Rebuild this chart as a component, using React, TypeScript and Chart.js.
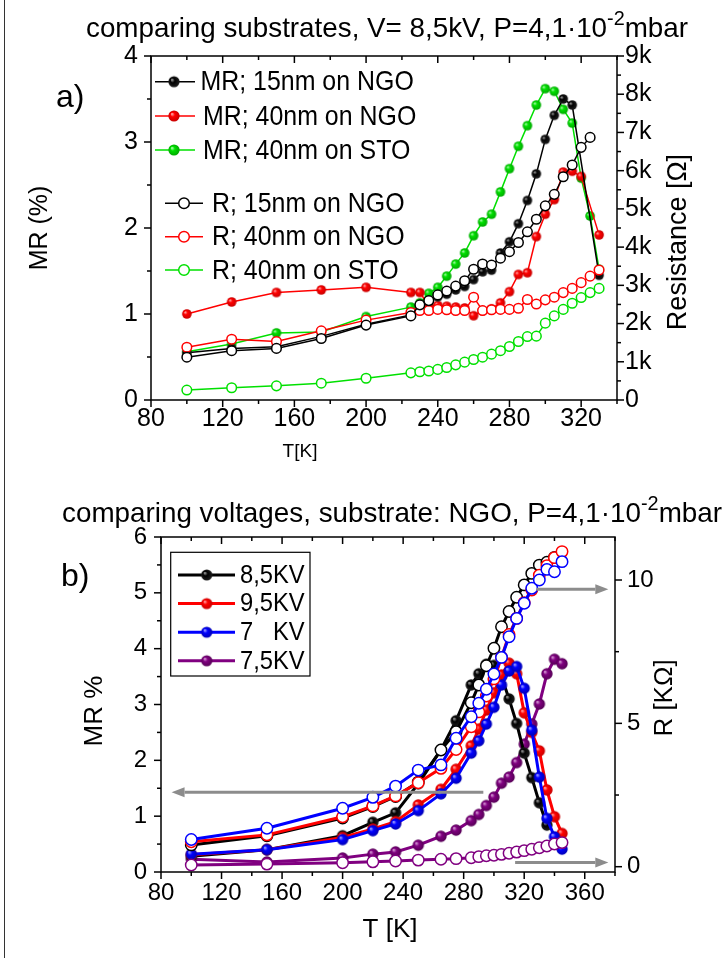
import React, { useEffect, useRef } from 'react';
import { Chart, registerables } from 'chart.js';
Chart.register(...registerables);

const FONT = '"Liberation Sans", Arial, Helvetica, sans-serif';

// ---------------- chart (a): comparing substrates ----------------
const TA_MR15 = [100, 125, 150, 175, 200, 225, 230, 235, 240, 245, 250, 255, 260, 265, 270, 275, 280, 285, 290, 295, 300, 305, 310, 315, 330];
const MR15 = [0.55, 0.60, 0.62, 0.74, 0.88, 0.99, 1.10, 1.15, 1.20, 1.23, 1.28, 1.32, 1.40, 1.49, 1.51, 1.71, 1.84, 2.05, 2.32, 2.63, 3.03, 3.31, 3.50, 3.43, 1.45];
const TA_MR40N = [100, 125, 150, 175, 200, 225, 230, 235, 240, 245, 250, 255, 260, 265, 270, 275, 280, 285, 290, 295, 300, 305, 310, 315, 320, 330];
const MR40N = [1.00, 1.14, 1.25, 1.28, 1.31, 1.25, 1.25, 1.10, 1.10, 1.09, 1.08, 1.07, 0.98, 1.04, 1.06, 1.13, 1.26, 1.46, 1.48, 1.90, 2.16, 2.33, 2.65, 2.66, 2.60, 1.92];
const TA_FULL = [100, 125, 150, 175, 200, 225, 230, 235, 240, 245, 250, 255, 260, 265, 270, 275, 280, 285, 290, 295, 300, 305, 310, 315, 320, 325, 330];
const MRSTO = [0.56, 0.65, 0.78, 0.79, 0.97, 1.08, 1.13, 1.24, 1.31, 1.44, 1.58, 1.71, 1.91, 2.07, 2.16, 2.42, 2.69, 2.95, 3.19, 3.43, 3.62, 3.59, 3.38, 3.22, 2.58, 2.14, 1.52];
const TA_R15 = [100, 125, 150, 175, 200, 225, 230, 235, 240, 245, 250, 255, 260, 265, 270, 275, 280, 285, 290, 295, 300, 305, 310, 315, 320, 325];
const R15 = [1.12, 1.29, 1.35, 1.61, 1.96, 2.20, 2.49, 2.60, 2.75, 2.85, 2.98, 3.12, 3.42, 3.56, 3.53, 3.71, 3.88, 4.12, 4.40, 4.73, 5.08, 5.38, 5.84, 6.15, 6.61, 6.87];
const R40N = [1.38, 1.59, 1.53, 1.81, 2.09, 2.29, 2.34, 2.34, 2.37, 2.36, 2.34, 2.34, 2.69, 2.34, 2.36, 2.37, 2.37, 2.40, 2.63, 2.51, 2.62, 2.69, 2.81, 2.92, 3.07, 3.24, 3.40];
const RSTO = [0.26, 0.32, 0.37, 0.44, 0.57, 0.71, 0.74, 0.76, 0.80, 0.85, 0.92, 0.99, 1.06, 1.12, 1.20, 1.29, 1.40, 1.53, 1.66, 1.67, 2.01, 2.20, 2.37, 2.53, 2.68, 2.81, 2.92];
const LABELS_A = ['MR; 15nm on NGO', 'MR; 40nm on NGO', 'MR; 40nm on STO', 'R; 15nm on NGO', 'R; 40nm on NGO', 'R; 40nm on STO'];
const XTICKS_A = [80, 120, 160, 200, 240, 280, 320];
const XMINOR_A = [100, 140, 180, 220, 260, 300, 340];
const YTICKS_A = [0, 1, 2, 3, 4];
const YMINOR_A = [0.5, 1.5, 2.5, 3.5];
const RTICKS_A = [0, 1, 2, 3, 4, 5, 6, 7, 8, 9];
const RMINOR_A = [0.5, 1.5, 2.5, 3.5, 4.5, 5.5, 6.5, 7.5, 8.5];

// ---------------- chart (b): comparing voltages ----------------
const TB = [100, 150, 200, 220, 235, 250, 265, 275, 285, 290, 295, 300, 305, 310, 315, 320, 325, 330, 335, 340, 345];
const TB_85MR = [100, 150, 200, 220, 235, 250, 265, 275, 285, 290, 295, 300, 305, 310, 315, 320, 325, 330, 335];
const TB_85R = [100, 150, 200, 220, 235, 250, 265, 275, 285, 290, 295, 300, 305, 310, 315, 320, 325, 330, 335, 340];
const MR85 = [0.28, 0.40, 0.65, 0.89, 1.06, 1.58, 2.19, 2.71, 3.35, 3.55, 3.72, 3.70, 3.50, 3.10, 2.66, 2.13, 1.69, 1.24, 0.84];
const MR95 = [0.31, 0.40, 0.62, 0.77, 0.90, 1.20, 1.48, 1.84, 2.26, 2.56, 2.90, 3.21, 3.53, 3.74, 3.55, 2.85, 2.50, 2.17, 1.47, 0.99, 0.69];
const MR7 = [0.32, 0.40, 0.58, 0.74, 0.86, 1.10, 1.40, 1.68, 2.13, 2.35, 2.65, 2.95, 3.35, 3.60, 3.68, 3.29, 2.54, 1.70, 0.96, 0.63, 0.41];
const MR75 = [0.23, 0.18, 0.25, 0.32, 0.36, 0.48, 0.64, 0.75, 0.92, 1.03, 1.19, 1.34, 1.59, 1.70, 1.96, 2.29, 2.65, 3.01, 3.55, 3.81, 3.73];
const R85 = [0.76, 1.08, 1.70, 2.10, 2.45, 2.95, 4.07, 4.71, 5.72, 6.34, 7.01, 7.62, 8.37, 8.90, 9.40, 9.83, 10.23, 10.52, 10.62, 10.79];
const R95 = [0.87, 1.11, 1.74, 2.12, 2.47, 2.93, 3.43, 4.09, 4.88, 5.40, 5.95, 6.55, 7.30, 8.10, 8.66, 9.21, 9.65, 10.17, 10.50, 10.78, 10.99];
const R7 = [0.95, 1.34, 2.04, 2.42, 2.81, 3.37, 3.55, 4.48, 5.23, 5.70, 6.19, 6.72, 7.30, 8.02, 8.66, 9.19, 9.71, 10.00, 10.37, 10.29, 10.64];
const R75 = [0.06, 0.09, 0.14, 0.17, 0.20, 0.23, 0.26, 0.28, 0.31, 0.35, 0.38, 0.40, 0.43, 0.47, 0.51, 0.56, 0.61, 0.66, 0.72, 0.79, 0.84];
const LABELS_B = ['8,5KV', '9,5KV', '7   KV', '7,5KV'];
const XTICKS_B = [80, 120, 160, 200, 240, 280, 320, 360];
const XMINOR_B = [100, 140, 180, 220, 260, 300, 340, 380];
const YTICKS_B = [0, 1, 2, 3, 4, 5, 6];
const YMINOR_B = [0.5, 1.5, 2.5, 3.5, 4.5, 5.5];
const RTICKS_B = [0, 5, 10];
const RMINOR_B = [2.5, 7.5];
// annotation arrows (data coords): axis, value, from T, to T
const ARROWS_B: [string, number, number, number][] = [
  ['y', 1.43, 293, 87],
  ['y2', 9.68, 328, 375.6],
  ['y2', 0.15, 314, 375.6],
];

const COLORS: Record<string, [string, string, string]> = {
  black: ['#000000', '#1e1e1e', '#b8b8b8'],
  red: ['#ff0000', '#c80000', '#ffc4c4'],
  green: ['#00e000', '#00a800', '#c8ffc8'],
  blue: ['#0000ff', '#0000b4', '#c4c4ff'],
  purple: ['#800080', '#560056', '#e6b8e6'],
};

function makeBall(name: string, r: number) {
  const [mid, dark, light] = COLORS[name];
  const c = document.createElement('canvas');
  const s = Math.ceil(2 * r + 2);
  c.width = s;
  c.height = s;
  const ctx = c.getContext('2d')!;
  const cx = s / 2, cy = s / 2;
  const g = ctx.createRadialGradient(cx - r * 0.4, cy - r * 0.4, 0, cx, cy, r);
  g.addColorStop(0, light);
  g.addColorStop(0.4, mid);
  g.addColorStop(1, dark);
  ctx.fillStyle = g;
  ctx.beginPath();
  ctx.arc(cx, cy, r, 0, Math.PI * 2);
  ctx.fill();
  return c;
}

const pts = (xs: number[], ys: number[]) => ys.map((y, i) => ({ x: xs[i], y }));

function filledDs(xs: number[], ys: number[], name: string, r: number, lw: number, axis: string) {
  return {
    data: pts(xs, ys), yAxisID: axis, borderColor: COLORS[name][0], borderWidth: lw,
    pointStyle: makeBall(name, r), pointRadius: r, tension: 0, fill: false,
  };
}
function openDs(xs: number[], ys: number[], name: string, r: number, lw: number, axis: string) {
  return {
    data: pts(xs, ys), yAxisID: axis, borderColor: COLORS[name][0], borderWidth: lw,
    pointStyle: 'circle', pointRadius: r, pointBorderWidth: 1.5, pointBackgroundColor: '#ffffff',
    pointBorderColor: COLORS[name][0], tension: 0, fill: false,
  };
}

function line(ctx: CanvasRenderingContext2D, x1: number, y1: number, x2: number, y2: number) {
  ctx.beginPath();
  ctx.moveTo(x1, y1);
  ctx.lineTo(x2, y2);
  ctx.stroke();
}

function drawFrame(chart: any, xM: number[], xm: number[], yM: number[], ym: number[], rM: number[], rm: number[]) {
  const { ctx, chartArea: a, scales } = chart;
  ctx.save();
  ctx.strokeStyle = '#000';
  ctx.lineWidth = 1.5;
  ctx.strokeRect(a.left, a.top, a.right - a.left, a.bottom - a.top);
  const L = 7, l = 4;
  xM.forEach((v) => { const p = scales.x.getPixelForValue(v); line(ctx, p, a.bottom, p, a.bottom + L); line(ctx, p, a.top, p, a.top + L); });
  xm.forEach((v) => { const p = scales.x.getPixelForValue(v); line(ctx, p, a.bottom, p, a.bottom + l); line(ctx, p, a.top, p, a.top + l); });
  yM.forEach((v) => { const p = scales.y.getPixelForValue(v); line(ctx, a.left - L, p, a.left, p); });
  ym.forEach((v) => { const p = scales.y.getPixelForValue(v); line(ctx, a.left - l, p, a.left, p); });
  rM.forEach((v) => { const p = scales.y2.getPixelForValue(v); line(ctx, a.right, p, a.right + L, p); });
  rm.forEach((v) => { const p = scales.y2.getPixelForValue(v); line(ctx, a.right, p, a.right + l, p); });
  ctx.restore();
}

function drawTitle(ctx: CanvasRenderingContext2D, main: string, sup: string, tail: string, x0: number, x1: number, base: number, size: number) {
  ctx.save();
  ctx.fillStyle = '#000';
  ctx.textAlign = 'left';
  ctx.textBaseline = 'alphabetic';
  const big = `${size}px ${FONT}`;
  const small = `${Math.round(size * 0.7)}px ${FONT}`;
  ctx.font = big;
  const w1 = ctx.measureText(main).width;
  const w3 = ctx.measureText(tail).width;
  ctx.font = small;
  const w2 = ctx.measureText(sup).width;
  const sx = (x1 - x0) / (w1 + w2 + w3);
  ctx.translate(x0, base);
  ctx.scale(sx, 1);
  ctx.font = big;
  ctx.fillText(main, 0, 0);
  ctx.font = small;
  ctx.fillText(sup, w1, -size * 0.42);
  ctx.font = big;
  ctx.fillText(tail, w1 + w2, 0);
  ctx.restore();
}

function text(ctx: CanvasRenderingContext2D, s: string, x: number, y: number, size: number, align: CanvasTextAlign = 'left', rot = 0, sx = 1) {
  ctx.save();
  ctx.fillStyle = '#000';
  ctx.font = `${size}px ${FONT}`;
  ctx.textAlign = align;
  ctx.textBaseline = 'middle';
  ctx.translate(x, y);
  if (rot) ctx.rotate(rot);
  if (sx !== 1) ctx.scale(sx, 1);
  ctx.fillText(s, 0, 0);
  ctx.restore();
}

function openMarker(ctx: CanvasRenderingContext2D, x: number, y: number, r: number, color: string) {
  ctx.save();
  ctx.fillStyle = '#fff';
  ctx.strokeStyle = color;
  ctx.lineWidth = 1.5;
  ctx.beginPath();
  ctx.arc(x, y, r, 0, Math.PI * 2);
  ctx.fill();
  ctx.stroke();
  ctx.restore();
}

function arrow(ctx: CanvasRenderingContext2D, x1: number, y1: number, x2: number, y2: number) {
  ctx.save();
  ctx.strokeStyle = '#8c8c8c';
  ctx.fillStyle = '#8c8c8c';
  ctx.lineWidth = 3;
  const ang = Math.atan2(y2 - y1, x2 - x1);
  const hl = 13, hw = 5;
  const bx = x2 - hl * Math.cos(ang), by = y2 - hl * Math.sin(ang);
  line(ctx, x1, y1, bx, by);
  ctx.beginPath();
  ctx.moveTo(x2, y2);
  ctx.lineTo(bx - hw * Math.sin(ang), by + hw * Math.cos(ang));
  ctx.lineTo(bx + hw * Math.sin(ang), by - hw * Math.cos(ang));
  ctx.closePath();
  ctx.fill();
  ctx.restore();
}

function baseScales(xmin: number, xmax: number, xt: number[], ymin: number, ymax: number, yt: number[], rmin: number, rmax: number, rt: number[],
  fs: number, sizes: { xh: number; yl: number; yr: number; px: number; pl: number; pr: number }, rfmt: (v: number) => string) {
  const tickFont = { family: FONT, size: fs };
  const common = { grid: { display: false, drawTicks: false }, border: { display: false } };
  return {
    x: {
      type: 'linear', min: xmin, max: xmax, ...common,
      afterBuildTicks: (s: any) => { s.ticks = xt.map((v) => ({ value: v })); },
      ticks: { font: tickFont, color: '#000', padding: sizes.px, maxRotation: 0, autoSkip: false, callback: (v: any) => String(v) },
      afterFit: (s: any) => { s.height = sizes.xh; },
    },
    y: {
      type: 'linear', position: 'left', min: ymin, max: ymax, ...common,
      afterBuildTicks: (s: any) => { s.ticks = yt.map((v) => ({ value: v })); },
      ticks: { font: tickFont, color: '#000', padding: sizes.pl, autoSkip: false, callback: (v: any) => String(v) },
      afterFit: (s: any) => { s.width = sizes.yl; },
    },
    y2: {
      type: 'linear', position: 'right', min: rmin, max: rmax, ...common,
      afterBuildTicks: (s: any) => { s.ticks = rt.map((v) => ({ value: v })); },
      ticks: { font: tickFont, color: '#000', padding: sizes.pr, autoSkip: false, callback: (v: any) => rfmt(Number(v)) },
      afterFit: (s: any) => { s.width = sizes.yr; },
    },
  };
}

function configA(): any {
  const r = 4.8;
  const datasets = [
    openDs(TA_R15, R15, 'black', r, 1.5, 'y2'),
    openDs(TA_FULL, R40N, 'red', r, 1.5, 'y2'),
    openDs(TA_FULL, RSTO, 'green', r, 1.5, 'y2'),
    filledDs(TA_MR15, MR15, 'black', r, 1.5, 'y'),
    filledDs(TA_MR40N, MR40N, 'red', r, 1.5, 'y'),
    filledDs(TA_FULL, MRSTO, 'green', r, 1.5, 'y'),
  ];
  const legendBalls = ['black', 'red', 'green'].map((n) => makeBall(n, 5.6));
  const overlay = {
    id: 'overlayA',
    afterDraw(chart: any) {
      const ctx = chart.ctx as CanvasRenderingContext2D;
      const a = chart.chartArea;
      drawFrame(chart, XTICKS_A, XMINOR_A, YTICKS_A, YMINOR_A, RTICKS_A, RMINOR_A);
      drawTitle(ctx, 'comparing substrates, V= 8,5kV, P=4,1\u00b710', '-2', 'mbar', 86, 688, 37, 28);
      ctx.save();
      ctx.fillStyle = '#000';
      ctx.font = `32px ${FONT}`;
      ctx.textBaseline = 'alphabetic';
      ctx.fillText('a)', 56, 107);
      ctx.restore();
      text(ctx, 'MR (%)', 40, (a.top + a.bottom) / 2, 25, 'center', -Math.PI / 2);
      text(ctx, 'Resistance [\u03a9]', 679, 242, 27, 'center', -Math.PI / 2);
      text(ctx, 'T[K]', 300, 452, 19, 'center');
      // legend
      const names = ['black', 'red', 'green'];
      const rowsMR = [81.7, 116, 150];
      const txMR = [200.5, 203, 203];
      rowsMR.forEach((y, i) => {
        ctx.save();
        ctx.strokeStyle = COLORS[names[i]][0];
        ctx.lineWidth = 1.5;
        line(ctx, 155, y, 195, y);
        ctx.restore();
        const b = legendBalls[i];
        ctx.drawImage(b, 174 - b.width / 2, y - b.height / 2);
        text(ctx, LABELS_A[i], txMR[i], y + 1, 28, 'left', 0, 0.89);
      });
      const rowsR = [203.3, 236.7, 270];
      rowsR.forEach((y, i) => {
        ctx.save();
        ctx.strokeStyle = COLORS[names[i]][0];
        ctx.lineWidth = 1.5;
        line(ctx, 165, y, 203, y);
        ctx.restore();
        openMarker(ctx, 184, y, 5.3, COLORS[names[i]][0]);
        text(ctx, LABELS_A[i + 3], 212, y + 1, 28, 'left', 0, 0.89);
      });
    },
  };
  return {
    type: 'line',
    data: { datasets },
    options: {
      responsive: false,
      animation: false,
      events: [],
      layout: { padding: { top: 56, left: 0, right: 0, bottom: 0 } },
      plugins: { legend: { display: false }, tooltip: { enabled: false }, title: { display: false } },
      scales: baseScales(80, 340, XTICKS_A, 0, 4, YTICKS_A, 0, 9, RTICKS_A, 25,
        { xh: 70, yl: 151, yr: 110, px: 4, pl: 13, pr: 8 }, (v) => (v === 0 ? '0' : `${v}k`)),
    },
    plugins: [overlay],
  };
}

function configB(): any {
  const r = 5.7;
  const datasets = [
    openDs(TB, R75, 'purple', r, 3, 'y2'),
    openDs(TB, R7, 'blue', r, 3, 'y2'),
    openDs(TB, R95, 'red', r, 3, 'y2'),
    openDs(TB_85R, R85, 'black', r, 3, 'y2'),
    filledDs(TB, MR7, 'blue', r, 3, 'y'),
    filledDs(TB, MR95, 'red', r, 3, 'y'),
    filledDs(TB_85MR, MR85, 'black', r, 3, 'y'),
    filledDs(TB, MR75, 'purple', r, 3, 'y'),
  ];
  const names = ['black', 'red', 'blue', 'purple'];
  const legendBalls = names.map((n) => makeBall(n, 5.6));
  const OY = 480;
  const overlay = {
    id: 'overlayB',
    afterDraw(chart: any) {
      const ctx = chart.ctx as CanvasRenderingContext2D;
      const sc = chart.scales;
      ARROWS_B.forEach(([ax, v, t1, t2]) => {
        const y = sc[ax].getPixelForValue(v);
        arrow(ctx, sc.x.getPixelForValue(t1), y, sc.x.getPixelForValue(t2), y);
      });
      drawFrame(chart, XTICKS_B, XMINOR_B, YTICKS_B, YMINOR_B, RTICKS_B, RMINOR_B);
      drawTitle(ctx, 'comparing voltages, substrate: NGO, P=4,1\u00b710', '-2', 'mbar', 62, 722, 522 - OY, 28);
      ctx.save();
      ctx.fillStyle = '#000';
      ctx.font = `32px ${FONT}`;
      ctx.textBaseline = 'alphabetic';
      ctx.fillText('b)', 61, 586 - OY);
      ctx.restore();
      text(ctx, 'MR %', 95, 711 - OY, 26, 'center', -Math.PI / 2);
      text(ctx, 'R [K\u03a9]', 665, 698 - OY, 26, 'center', -Math.PI / 2);
      text(ctx, 'T [K]', 390, 930 - OY, 26, 'center');
      // legend box
      ctx.save();
      ctx.strokeStyle = '#000';
      ctx.lineWidth = 1.2;
      ctx.fillStyle = '#fff';
      ctx.fillRect(170.7, 552.3 - OY, 139.3, 123.7);
      ctx.strokeRect(170.7, 552.3 - OY, 139.3, 123.7);
      ctx.restore();
      names.forEach((n, i) => {
        const y = 575 - OY + i * 28.6;
        ctx.save();
        ctx.strokeStyle = COLORS[n][0];
        ctx.lineWidth = 3;
        line(ctx, 178, y, 235, y);
        ctx.restore();
        const b = legendBalls[i];
        ctx.drawImage(b, 206.7 - b.width / 2, y - b.height / 2);
        text(ctx, LABELS_B[i], 240, y + 1, 25, 'left', 0, 0.95);
      });
    },
  };
  return {
    type: 'line',
    data: { datasets },
    options: {
      responsive: false,
      animation: false,
      events: [],
      layout: { padding: { top: 57, left: 0, right: 0, bottom: 0 } },
      plugins: { legend: { display: false }, tooltip: { enabled: false }, title: { display: false } },
      scales: baseScales(80, 380, XTICKS_B, 0, 6, YTICKS_B, -0.185, 11.5, RTICKS_B, 24,
        { xh: 86, yl: 161, yr: 112, px: 7, pl: 14, pr: 12 }, (v) => String(v)),
    },
    plugins: [overlay],
  };
}

export default function App() {
  const refA = useRef<HTMLCanvasElement>(null);
  const refB = useRef<HTMLCanvasElement>(null);
  useEffect(() => {
    const ca = new Chart(refA.current as HTMLCanvasElement, configA());
    const cb = new Chart(refB.current as HTMLCanvasElement, configB());
    return () => {
      ca.destroy();
      cb.destroy();
    };
  }, []);
  return (
    <div style={{ position: 'absolute', left: 0, top: 0, width: 727, height: 958, background: '#fff', overflow: 'hidden' }}>
      <div style={{ position: 'absolute', left: 4, top: 0, width: 0, height: 958, borderLeft: '1.5px solid #333' }} />
      <canvas ref={refA} width={727} height={470} style={{ position: 'absolute', left: 0, top: 0, width: 727, height: 470 }} />
      <canvas ref={refB} width={727} height={478} style={{ position: 'absolute', left: 0, top: 480, width: 727, height: 478 }} />
    </div>
  );
}
